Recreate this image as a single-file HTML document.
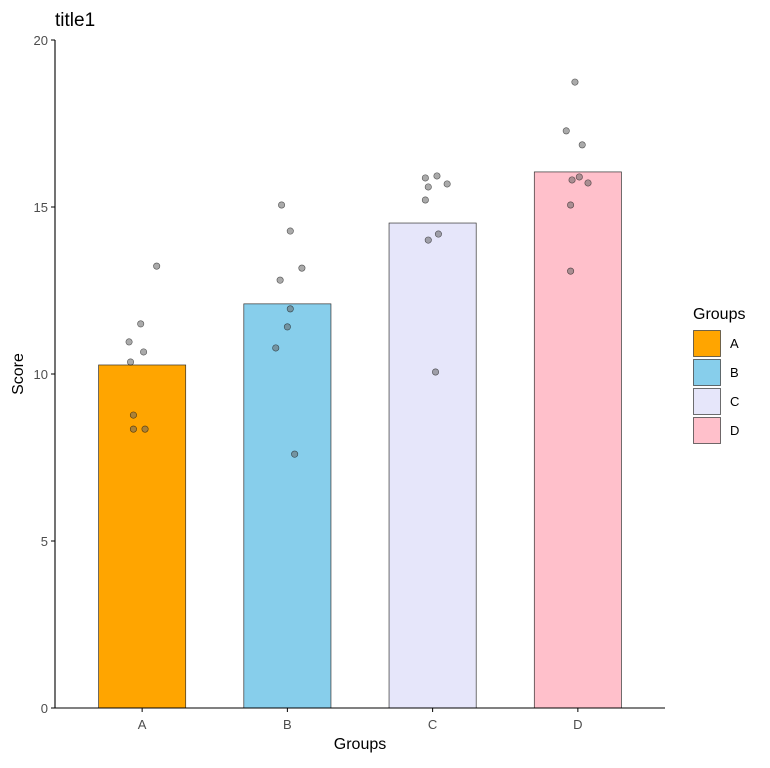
<!DOCTYPE html>
<html><head><meta charset="utf-8"><style>
body{margin:0;background:#fff;}
svg text{font-family:"Liberation Sans",Arial,sans-serif;}
</style></head><body>
<svg id="chart" width="770" height="763" xmlns="http://www.w3.org/2000/svg">
<rect width="770" height="763" fill="#fff"/>
<text x="55" y="26" font-size="19" fill="#000">title1</text>
<g id="plot"></g>
<g id="legend">
<text x="693" y="319" font-size="16" fill="#000">Groups</text>
</g>
</svg>
<script>
const categories=["A","B","C","D"];
const colors=["#FFA500","#87CEEB","#E6E6FA","#FFC0CB"];
const means=[10.27,12.1,14.52,16.05];
const pointsA=[13.23,11.5,10.96,10.66,10.36,8.77,8.35,8.35];
const pointsB=[15.06,14.28,13.17,12.81,11.95,11.41,10.78,7.6];
const pointsC=[15.87,15.93,15.6,15.69,15.21,14.19,14.01,10.06];
const pointsD=[18.74,17.28,16.86,15.81,15.9,15.72,15.06,13.08];
const jitterA=[0.1,-0.01,-0.09,0.01,-0.08,-0.06,-0.06,0.02];
const jitterB=[-0.04,0.02,0.1,-0.05,0.02,0,-0.08,0.05];
const jitterC=[-0.05,0.03,-0.03,0.1,-0.05,0.04,-0.03,0.02];
const jitterD=[-0.02,-0.08,0.03,-0.04,0.01,0.07,-0.05,-0.05];
const yTicks=[0,5,10,15,20];
const points=[pointsA,pointsB,pointsC,pointsD];
const jitters=[jitterA,jitterB,jitterC,jitterD];
const NS="http://www.w3.org/2000/svg";
const L=55,R=665,T=40,B=708;
const y=v=>B-(v/20)*(B-T);
const step=(R-L)/4.2;
const x=i=>L+step*(0.6+i);
const bw=step*0.6;
const plot=document.getElementById('plot');
function mk(tag,attrs,parent){const e=document.createElementNS(NS,tag);for(const k in attrs)e.setAttribute(k,attrs[k]);(parent||plot).appendChild(e);return e;}
categories.forEach((c,i)=>{
  const r=mk('rect',{x:x(i)-bw/2,y:y(means[i]),width:bw,height:B-y(means[i]),fill:colors[i],stroke:'#333','stroke-width':0.7});
  
  
});
points.forEach((arr,i)=>arr.forEach((v,j)=>{
  const p=mk('circle',{cx:x(i+jitters[i][j]),cy:y(v),r:3.2,fill:'rgba(100,100,100,0.55)',stroke:'rgba(0,0,0,0.6)','stroke-width':0.6});
  
  
}));
const ya=mk('line',{x1:L,x2:L,y1:T,y2:B,stroke:'#000','stroke-width':1.1});


const xa=mk('line',{x1:L,x2:R,y1:B,y2:B,stroke:'#000','stroke-width':1.1});


yTicks.forEach(t=>{
  mk('line',{x1:L-4,x2:L,y1:y(t),y2:y(t),stroke:'#000'});
  const tx=mk('text',{x:L-7,y:y(t)+5,'text-anchor':'end','font-size':13,fill:'#4d4d4d'});
  tx.textContent=t;
  
  
});
categories.forEach((c,i)=>{
  mk('line',{x1:x(i),x2:x(i),y1:B,y2:B+4,stroke:'#000'});
  const tx=mk('text',{x:x(i),y:B+21,'text-anchor':'middle','font-size':13,fill:'#4d4d4d'});
  tx.textContent=c;
  
  
});
const xt=mk('text',{x:(L+R)/2,y:749,'text-anchor':'middle','font-size':16,fill:'#000'});
xt.textContent='Groups';


const yt=mk('text',{x:0,y:0,'text-anchor':'middle','font-size':16,fill:'#000',transform:'translate(23,374) rotate(-90)'});
yt.textContent='Score';


const lg=document.getElementById('legend');
categories.forEach((c,i)=>{
  const yy=330+i*29;
  const k=mk('rect',{x:693.5,y:yy+0.5,width:27,height:26,fill:colors[i],stroke:'#333','stroke-width':0.7},lg);
  
  
  const t=mk('text',{x:730,y:yy+18,'font-size':13,fill:'#000'},lg);
  t.textContent=c;
  
  
});
</script>
</body></html>
